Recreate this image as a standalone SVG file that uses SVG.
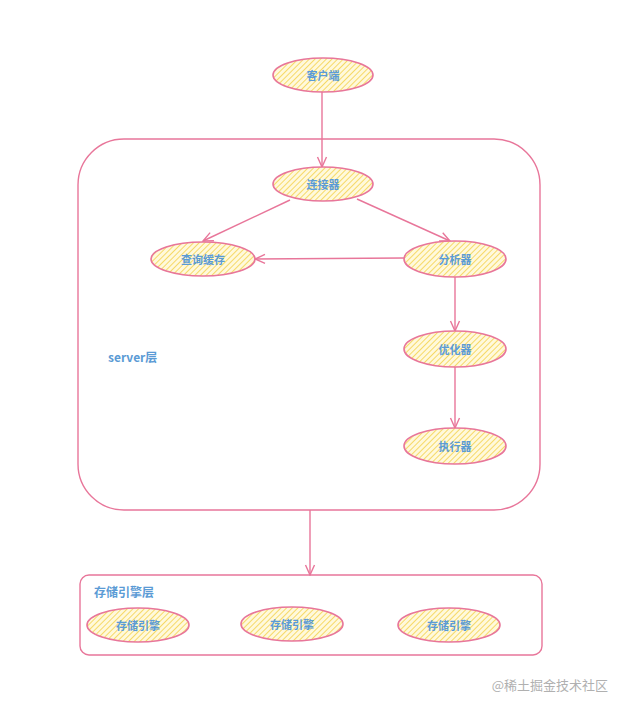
<svg xmlns="http://www.w3.org/2000/svg" width="627" height="711" viewBox="0 0 627 711">
<defs>
<pattern id="hatch" patternUnits="userSpaceOnUse" width="4" height="4" patternTransform="rotate(45)">
<rect width="4" height="4" fill="#fff9dc"/>
<line x1="0" y1="0" x2="0" y2="4" stroke="#f6d65a" stroke-width="1.8"/>
</pattern>
<marker id="arr" viewBox="0 0 12 12" refX="11" refY="6" markerWidth="12" markerHeight="12" markerUnits="userSpaceOnUse" orient="auto">
<polyline points="1,1.5 11,6 1,10.5" fill="none" stroke="#e8769a" stroke-width="1.4"/>
</marker>
</defs>
<style>
.box{fill:none;stroke:#e8769a;stroke-width:1.4}
.node ellipse{fill:url(#hatch);stroke:#e8769a;stroke-width:1.6}
.node text{font-family:"Noto Sans CJK SC","Liberation Sans",sans-serif;font-size:11px;font-weight:bold;fill:#5b9bd5;text-anchor:middle;dominant-baseline:central}
.lbl{font-family:"Noto Sans CJK SC","Liberation Sans",sans-serif;font-size:12px;font-weight:bold;fill:#5b9bd5}
.edge{fill:none;stroke:#e8769a;stroke-width:1.4;marker-end:url(#arr)}
</style>
<rect width="627" height="711" fill="#ffffff"/>
<g id="server-layer">
<rect class="box" x="78" y="139" width="462" height="371" rx="46" ry="46"/>
<text class="lbl" x="108" y="362">server层</text>
</g>
<g id="storage-layer">
<rect class="box" x="80" y="575" width="462" height="80" rx="9" ry="9"/>
<text class="lbl" x="94" y="597">存储引擎层</text>
</g>
<g id="connectors">
<line class="edge" x1="322" y1="92" x2="322" y2="167"/>
<line class="edge" x1="290" y1="200" x2="203" y2="241"/>
<line class="edge" x1="357" y1="199" x2="450" y2="241"/>
<line class="edge" x1="404" y1="258" x2="255" y2="259"/>
<line class="edge" x1="455" y1="277" x2="455" y2="331"/>
<line class="edge" x1="455" y1="367" x2="455" y2="428"/>
<line class="edge" x1="310" y1="510" x2="310" y2="575"/>
</g>
<g id="client" class="node"><ellipse cx="323" cy="75" rx="50" ry="17"/><text x="323" y="75">客户端</text></g>
<g id="connector" class="node"><ellipse cx="323" cy="184" rx="50" ry="17"/><text x="323" y="184">连接器</text></g>
<g id="query-cache" class="node"><ellipse cx="203" cy="259" rx="52" ry="17"/><text x="203" y="259">查询缓存</text></g>
<g id="analyzer" class="node"><ellipse cx="455" cy="259" rx="51" ry="18"/><text x="455" y="259">分析器</text></g>
<g id="optimizer" class="node"><ellipse cx="455" cy="349" rx="51" ry="18"/><text x="455" y="349">优化器</text></g>
<g id="executor" class="node"><ellipse cx="455" cy="446" rx="51" ry="18"/><text x="455" y="446">执行器</text></g>
<g id="engine1" class="node"><ellipse cx="138" cy="625" rx="51" ry="17"/><text x="138" y="625">存储引擎</text></g>
<g id="engine2" class="node"><ellipse cx="292" cy="624" rx="51" ry="17"/><text x="292" y="624">存储引擎</text></g>
<g id="engine3" class="node"><ellipse cx="449" cy="625" rx="51" ry="17"/><text x="449" y="625">存储引擎</text></g>
<text x="608" y="690" text-anchor="end" font-family="Noto Sans CJK SC,Liberation Sans,sans-serif" font-size="13" fill="#b0b0b0">@稀土掘金技术社区</text>
</svg>
